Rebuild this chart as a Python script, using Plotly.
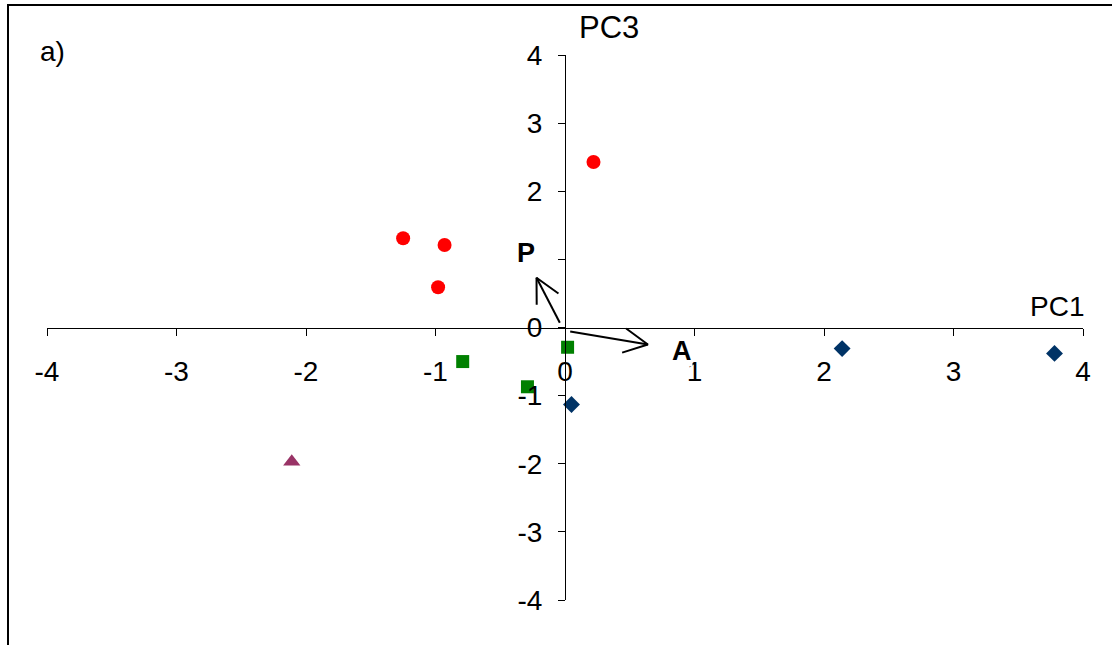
import math
import plotly.graph_objects as go

# Sample scores on PC1 / PC3, grouped
red_x = [-1.25, -0.93, -0.98, 0.22]
red_y = [1.31, 1.21, 0.59, 2.43]
green_x = [-0.79, -0.29, 0.02]
green_y = [-0.50, -0.87, -0.29]
navy_x = [0.05, 2.14, 3.78]
navy_y = [-1.13, -0.31, -0.38]
purple_x = [-2.11]
purple_y = [-1.97]

# Loading vectors (start -> end) and their labels
vec_names = ["P", "A"]
vec_x0 = [-0.04, 0.04]
vec_y0 = [0.07, -0.06]
vec_x1 = [-0.22, 0.64]
vec_y1 = [0.73, -0.25]
vec_label_x = [-0.30, 0.90]
vec_label_y = [1.10, -0.34]

tick_vals = [-4, -3, -2, -1, 0, 1, 2, 3, 4]
x_tick_text = ["-4", "-3", "-2", "-1", "0", "1", "2", "3", "4"]
y_tick_text = ["-4", "-3", "-2", "-1", "0", "", "2", "3", "4"]

W, H = 1112, 645
ML, MR, MT, MB = 47, 29, 55, 45
PW, PH = W - ML - MR, H - MT - MB
XR, YR = (-4, 4), (-4, 4)
sx = PW / (XR[1] - XR[0])
sy = PH / (YR[1] - YR[0])

FONT = "Liberation Sans, Arial, sans-serif"
FS = 28

fig = go.Figure()

fig.add_trace(go.Scatter(x=red_x, y=red_y, mode="markers",
                         marker=dict(symbol="circle", size=14, color="#FF0000")))
fig.add_trace(go.Scatter(x=green_x, y=green_y, mode="markers",
                         marker=dict(symbol="square", size=13, color="#008000")))
fig.add_trace(go.Scatter(x=navy_x, y=navy_y, mode="markers",
                         marker=dict(symbol="diamond", size=13, color="#003366")))
fig.add_trace(go.Scatter(x=purple_x, y=purple_y, mode="markers",
                         marker=dict(symbol="triangle-up", size=15, color="#993366")))

# Open arrow heads, built in pixel space so the angle looks right
head_len, head_ang = 27, math.radians(27)
for x0, y0, x1, y1 in zip(vec_x0, vec_y0, vec_x1, vec_y1):
    dx, dy = (x0 - x1) * sx, (y0 - y1) * sy
    n = math.hypot(dx, dy)
    ux, uy = dx / n, dy / n
    hx, hy = [], []
    for s in (1, -1):
        c, si = math.cos(s * head_ang), math.sin(s * head_ang)
        rx, ry = ux * c - uy * si, ux * si + uy * c
        hx.append(x1 + rx * head_len / sx)
        hy.append(y1 + ry * head_len / sy)
    fig.add_trace(go.Scatter(
        x=[x0, x1, None, hx[0], x1, hx[1]],
        y=[y0, y1, None, hy[0], y1, hy[1]],
        mode="lines", line=dict(color="black", width=2),
        hoverinfo="skip"))

for name, lx, ly in zip(vec_names, vec_label_x, vec_label_y):
    fig.add_annotation(x=lx, y=ly, text=f"<b>{name}</b>", showarrow=False,
                       xanchor="center", yanchor="middle",
                       font=dict(family=FONT, size=27, color="black"),
                       bgcolor="white", borderpad=0)

axis_common = dict(
    range=list(XR), tickvals=tick_vals, showgrid=False, zeroline=False,
    showline=True, linecolor="black", linewidth=1,
    ticks="outside", ticklen=7, tickcolor="black", tickwidth=1,
    tickfont=dict(family=FONT, size=FS, color="black"),
    anchor="free", position=0.5, fixedrange=True,
)
fig.update_xaxes(**axis_common, ticktext=x_tick_text, ticklabelstandoff=12)
fig.update_yaxes(**{**axis_common, "range": list(YR)}, ticktext=y_tick_text,
                 ticklabelstandoff=10)


def paper_text(px, py, text, size):
    fig.add_annotation(x=(px - ML) / PW, y=(H - MB - py) / PH,
                       xref="paper", yref="paper", text=text, showarrow=False,
                       xanchor="center", yanchor="middle",
                       font=dict(family=FONT, size=size, color="black"))


# Axis titles and panel tag
paper_text(609, 28, "PC3", 31)
paper_text(1057, 306, "PC1", 28)
paper_text(52, 52, "a)", 28)

# Chart frame
fig.add_shape(type="rect", xref="paper", yref="paper",
              x0=(8 - ML) / PW, x1=(1125 - ML) / PW,
              y0=(H - MB - 660) / PH, y1=(H - MB - 5) / PH,
              line=dict(color="black", width=2), fillcolor="rgba(0,0,0,0)",
              layer="above")

fig.update_layout(
    width=W, height=H, showlegend=False,
    margin=dict(l=ML, r=MR, t=MT, b=MB),
    plot_bgcolor="white", paper_bgcolor="white",
)

fig.write_html("out.html", config={"displayModeBar": False})
